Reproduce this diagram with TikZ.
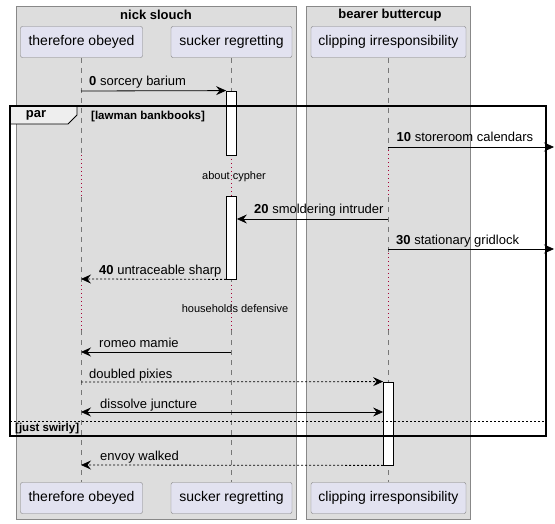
\documentclass[tikz,border=0pt]{standalone}
\usepackage{fontspec}
\setmainfont{Liberation Sans}
\usetikzlibrary{arrows.meta, positioning, calc}
\definecolor{grpfill}{HTML}{DDDDDD}
\definecolor{grpline}{HTML}{888888}
\definecolor{partfill}{HTML}{E2E2F0}
\definecolor{partline}{HTML}{7F7F7F}
\definecolor{lifegray}{HTML}{777777}
\definecolor{delayred}{HTML}{A80036}
\definecolor{tabfill}{HTML}{EEEEEE}

\begin{document}
\begin{tikzpicture}[x=1pt, y=-1pt,
    grp/.style={draw=grpline, fill=grpfill, line width=0.8pt},
    grptitle/.style={font=\fontsize{13}{15}\selectfont\bfseries, inner sep=0pt},
    part/.style={rectangle, rounded corners=2pt, draw=partline, fill=partfill, minimum height=31pt, inner sep=0pt, font=\fontsize{14}{16}\selectfont},
    act/.style={rectangle, draw=black, fill=white, minimum width=10pt, inner sep=0pt, line width=0.8pt},
    life/.style={draw=lifegray, line width=0.8pt, dash pattern=on 5pt off 5pt},
    delay/.style={draw=delayred, line width=0.8pt, dash pattern=on 1pt off 3pt},
    msg/.style={-{Stealth[length=10pt, width=9pt, inset=3.5pt]}, line width=0.8pt},
    ret/.style={msg, dash pattern=on 2pt off 2pt},
    dbl/.style={{Stealth[length=10pt, width=9pt, inset=3.5pt]}-{Stealth[length=10pt, width=9pt, inset=3.5pt]}, line width=0.8pt},
    lbl/.style={font=\fontsize{13}{15}\selectfont, anchor=base west, inner sep=0pt},
    delaytxt/.style={font=\fontsize{11}{13}\selectfont, inner sep=0pt},
    guard/.style={font=\fontsize{11.5}{13}\selectfont\bfseries, anchor=west, inner sep=0pt},
    parframe/.style={draw=black, line width=1.5pt}
  ]
    \useasboundingbox (0,0) rectangle (555,524);

    \draw[grp] (16,6) rectangle (296,519);
    \draw[grp] (306,6) rectangle (470,519);
    \node[grptitle] (g1) at (156,15) {nick slouch};
    \node[grptitle] (g2) at (390,15) {bearer buttercup};

    \node[part, minimum width=122pt] (p1) at (81.5,42) {therefore obeyed};
    \node[part, minimum width=121pt] (p2) at (231.5,42) {sucker regretting};
    \node[part, minimum width=155pt] (p3) at (388.5,42) {clipping irresponsibility};
    \node[part, minimum width=122pt] (q1) at (81.5,498) {therefore obeyed};
    \node[part, minimum width=121pt] (q2) at (231.5,498) {sucker regretting};
    \node[part, minimum width=155pt] (q3) at (388.5,498) {clipping irresponsibility};

    \foreach \i/\a/\b/\c/\d in {1/155/197/285/330, 2/155/197/285/330, 3/150/197/253/330} {
      \draw[life] (p\i.south) -- (p\i.south |- 0,\a);
      \draw[delay] (p\i.south |- 0,\a) -- (p\i.south |- 0,\b);
      \draw[life] (p\i.south |- 0,\b) -- (p\i.south |- 0,\c);
      \draw[delay] (p\i.south |- 0,\c) -- (p\i.south |- 0,\d);
      \draw[life] (p\i.south |- 0,\d) -- (q\i.north);
    }

    \node[act, minimum height=64pt] (a1) at (231.5,123) {};
    \node[act, minimum height=83pt] (a2) at (231.5,237.5) {};
    \node[act, minimum height=83pt] (a3) at (388.5,423.5) {};

    \draw[fill=tabfill, line width=0.8pt] (10,106) -- (77,106) -- (77,115) -- (68,124) -- (10,124) -- cycle;
    \draw[parframe] (10,106) rectangle (546,436);
    \draw[line width=0.8pt, dash pattern=on 2pt off 2pt] (10,421) -- (546,421);
    \node[font=\fontsize{13}{15}\selectfont\bfseries] (par) at (36,115.5) {par};
    \node[guard] (c1) at (91,116.5) {[lawman bankbooks]};
    \node[guard] (c2) at (15,428.5) {[just swirly]};

    \node[delaytxt] (d1) at (234,176.5) {about cypher};
    \node[delaytxt] (d2) at (235,309) {households defensive};

    \coordinate (m0) at (81,91);
    \coordinate (m10a) at (388,147);
    \coordinate (m10b) at (554,147);
    \coordinate (m20) at (388,219);
    \coordinate (m30a) at (388,249);
    \coordinate (m30b) at (554,249);
    \coordinate (m40) at (81,279);
    \coordinate (m50a) at (231,352);
    \coordinate (m50b) at (81,352);
    \coordinate (m60) at (81,382);
    \coordinate (m70) at (81,412);
    \coordinate (m80) at (81,465);

    \draw[msg] (m0) -- (a1.north west);
    \draw[msg] (m10a) -- (m10b);
    \draw[msg] (m20) -- (a2.east |- m20);
    \draw[msg] (m30a) -- (m30b);
    \draw[ret] (a2.south west) -- (m40);
    \draw[msg] (m50a) -- (m50b);
    \draw[ret] (m60) -- (a3.north west);
    \draw[dbl] (m70) -- (a3.west |- m70);
    \draw[ret] (a3.south west) -- (m80);

    \node[lbl] (l0) at (89,86) {\textbf{0} sorcery barium};
    \node[lbl] (l10) at (396.5,142) {\textbf{10} storeroom calendars};
    \node[lbl] (l20) at (254,214) {\textbf{20} smoldering intruder};
    \node[lbl] (l30) at (396,244.5) {\textbf{30} stationary gridlock};
    \node[lbl] (l40) at (99,275) {\textbf{40} untraceable sharp};
    \node[lbl] (l50) at (99,347) {romeo mamie};
    \node[lbl] (l60) at (89,378) {doubled pixies};
    \node[lbl] (l70) at (100,408) {dissolve juncture};
    \node[lbl] (l80) at (100,460.5) {envoy walked};
  \end{tikzpicture}
\end{document}
